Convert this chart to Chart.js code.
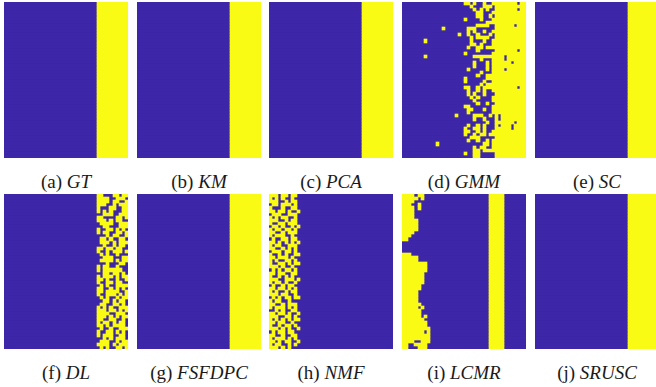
<!DOCTYPE html>
<html>
<head>
<meta charset="utf-8">
<script src="https://cdn.jsdelivr.net/npm/chart.js@4.4.1/dist/chart.umd.min.js"></script>
<style>
  html, body { margin: 0; padding: 0; background: #fff; overflow: hidden; }
  body { width: 656px; height: 387px; position: relative; }
  canvas.panel { position: absolute; }
  .caption {
    position: absolute; width: 180px; text-align: center;
    font-family: "Liberation Serif", "Times New Roman", Times, "DejaVu Serif", serif;
    font-size: 19px; line-height: 22px; color: #1a1a1a; white-space: nowrap;
  }
</style>
</head>
<body>
<script>
// Grid size of every cluster map (columns x rows)
const COLS = 40;
const ROWS = 50;

const panelLetters = ['a', 'b', 'c', 'd', 'e', 'f', 'g', 'h', 'i', 'j'];
const panelNames = ['GT', 'KM', 'PCA', 'GMM', 'SC', 'DL', 'FSFDPC', 'NMF', 'LCMR', 'SRUSC'];
const clusterColors = ['#3E26A8', '#F9FB15']; // class 1 (blue), class 2 (yellow)

// '.' = blue cell, '#' = yellow cell, spaces only group columns by ten
const stripeRow = '.......... .......... .......... ##########';

const gmmRows = [
    '.......... .......... ##.#..#..# #######.##',
    '.......... .......... ..#...###. ##########',
    '.......... .......... ...#.#.#.. #######.##',
    '.......... .......... ....##...# ##########',
    '.......... .......... ....##..#. ##########',
    '.......... .......... #....#...# ##########',
    '.......... .......... .......### ##########',
    '.......... .......... ....####.. ######.###',
    '.......... ...#...... .###...... ##########',
    '.......... .......... .#.#..#..# ##########',
    '.......... ........#. .#..#...#. ##########',
    '.......... .......... ..#.####.. ##########',
    '.......#.. .......... ..#...#..# ##########',
    '.......... .......... ..##.#...# ##########',
    '.......... .......... .#..##.### ##########',
    '.......... .......... ....#..... #######.##',
    '.......... .......... #........# ##########',
    '.......#.. .......... ...####### ###.######',
    '.......... .......... .....#...# ###.######',
    '.......... .......... ...#...#.# #####.####',
    '.......... .......... ...#...#.# ##########',
    '.......... .......... .#.....#.# ###.######',
    '.......... .......... .....#...# ##########',
    '.......... .......... ....#..### ##########',
    '.......... .......... #......### ##########',
    '.......... .......... #.....#..# ##########',
    '.......... .......... .....#.### ##########',
    '.......... .......... ##..#.#### #######.##',
    '.......... .......... .#..#.#..# ##########',
    '.......... .......... .#.#..#... ##########',
    '.......... .......... ..#.#....# ##########',
    '.......... .......... ...#.....# ##########',
    '.......... .......... ....#..#.. ##########',
    '.......... .......... ##.......# ##########',
    '.......... .......... .##...#..# ##########',
    '.......... .......... .#.......# ##########',
    '.......... .......#.. ...###..#. #.########',
    '.......... .......... ...#..#... #.########',
    '.......... .......... .......#.. ######.###',
    '.......... .......... .#..#.#... #.###.####',
    '.......... .......... #..##.#... #####.####',
    '.......... .......... ##..#.#..# ##########',
    '.......... .......... #..#.##.## ##########',
    '.......... .......... ..###..... ##########',
    '.......... .......... .#..#..#.# ##########',
    '.......... .#........ ......##.# ##########',
    '.......... .......... ...#.##..# ##########',
    '.......... .......... ...##.#### ##########',
    '.......... .......... #..##..... ##########',
    '.......... .......... ...##..... ##########'
];

// DL: columns 30-39 only, the rest is blue
const dlStripe = [
    '##...##.##', '####..###.', '####.##..#', '###..#.###', '#...##..##',
    '#.#.#...##', '..###..###', '##....##.#', '###.#.##..', '.####..###',
    '..##...###', '#..##.#.#.', '#.##..##.#', '...#.##..#', '.##.#..##.',
    '.###.#.###', '..#..#.##.', '##.##.##..', '#..#.###.#', '.#.#..#...',
    '..###...##', '.####.#.##', '...#...##.', '#.##..#...', '#.######..',
    '..##.##.#.', '#.###.#.##', '##.#..#..#', '#..##.##..', '.#.#..####',
    '##..#.#.#.', '##.####..#', '#..###.#.#', '.#.#..#.##', '..##.#.##.',
    '.##..##.#.', '#.#.#..###', '###.##.#.#', '####..###.', '###.#.#.##',
    '##..##..#.', '#.##.#.##.', '##.#.####.', '.#..#..###', '#..##.#.#.',
    '#.###..##.', '..#.#.###.', '.###..#.##', '####.#.###', '.#.#..##.#'
];

// NMF: columns 0-9 only, the rest is blue
const nmfStripe = [
    '###.##.##.', '#.#.#..#..', '###..#.##.', '.##.###.#.', '#...#..##.',
    '##.##.#..#', '.###..###.', '#.#.##..#.', '###..#.##.', '#..##.###.',
    '.##.#..#.#', '#.##.##.#.', '##..#.###.', '#.###..#..', '.#..##.##.',
    '##.#.#.#.#', '#.##..###.', '##..#.#.#.', '.###.##.#.', '#..#.#..##',
    '##.###.#..', '#.#..##.#.', '#..##.#.##', '###.#..#..', '.#.#.##.#.',
    '##.##..##.', '#..#.#.#..', '###..###.#', '#.##.#..#.', '.#..#.##..',
    '##.##.#.#.', '#.#..#.##.', '###.##..#.', '.#.#.##.##', '#.##..#...',
    '##..#.###.', '#.###.#.#.', '..#.#..##.', '##.##.#..#', '###..##.#.',
    '#.#.#.#.##', '##.##..#..', '#..#.##.#.', '###.#.#..#', '.#.##.##..',
    '##..#..##.', '#.###.#.#.', '##.#.##..#', '#.##..#.#.', '###.#.#...'
];

// LCMR: columns 0-9 (blob on the left), columns 10-39 are the same in every row
const lcmrLeft = [
    '####.##...', '#####.#...', '####......', '###..#....', '####.#....',
    '####......', '####......', '####......', '#####.....', '#####.....',
    '#####.....', '#####.....', '####......', '###.......', '##........',
    '..........', '..........', '..........', '..........', '###.......',
    '#####.....', '#####.....', '########..', '########..', '########..',
    '#######...', '#######...', '#######...', '#######...', '######....',
    '######....', '#####.....', '#####.....', '#####.....', '#####.....',
    '######....', '#####.#...', '######....', '######....', '######.#..',
    '#######...', '########..', '########..', '#########.', '#######.#.',
    '#########.', '#########.', '####..###.', '##..####..', '##...###..'
];
const lcmrRest = '.......... ........## ###.......';

function gridFor(name) {
    if (name === 'GMM') return gmmRows;
    if (name === 'DL') return dlStripe.map(s => '.......... .......... .......... ' + s);
    if (name === 'NMF') return nmfStripe.map(s => s + ' .......... .......... ..........');
    if (name === 'LCMR') return lcmrLeft.map(s => s + ' ' + lcmrRest);
    return Array(ROWS).fill(stripeRow);
}

// Turn one row string into [start, end] runs of yellow cells
function rowRuns(row) {
    const cells = row.replace(/ /g, '');
    const runs = [];
    let start = -1;
    for (let c = 0; c <= COLS; c++) {
        const yellow = c < COLS && cells[c] === '#';
        if (yellow && start < 0) start = c;
        if (!yellow && start >= 0) {
            runs.push([start, c]);
            start = -1;
        }
    }
    return runs;
}

// Snap bar edges to whole pixels so neighbouring cells leave no seams
const snapEdge = v => Math.round(v + 1e-4);
const snapBars = {
    id: 'snapBars',
    beforeDatasetsDraw(chart) {
        chart.getSortedVisibleDatasetMetas().forEach(meta => {
            meta.data.forEach(el => {
                if (!isFinite(el.x) || !isFinite(el.y) || !isFinite(el.base)) return;
                const top = snapEdge(el.y - el.height / 2);
                const bottom = snapEdge(el.y + el.height / 2);
                el.y = (top + bottom) / 2;
                el.height = bottom - top;
                el.x = snapEdge(el.x);
                el.base = snapEdge(el.base);
            });
        });
    }
};

// Panel placement on the page
const panelLefts = [4, 137, 269, 402, 535];
const panelTops = [2, 194];
const panelHeights = [156, 155];
const panelWidth = 124;
const captionTops = [171, 362];

function renderPanel(index) {
    const col = index % 5;
    const line = Math.floor(index / 5);
    const name = panelNames[index];

    const canvas = document.createElement('canvas');
    canvas.className = 'panel';
    canvas.width = panelWidth;
    canvas.height = panelHeights[line];
    canvas.style.left = panelLefts[col] + 'px';
    canvas.style.top = panelTops[line] + 'px';
    canvas.style.width = panelWidth + 'px';
    canvas.style.height = panelHeights[line] + 'px';
    document.body.appendChild(canvas);

    const rows = gridFor(name);
    const runs = rows.map(rowRuns);
    const maxRuns = Math.max(...runs.map(r => r.length));
    const labels = rows.map((_, i) => i + 1);

    // blue background for every row, yellow runs drawn over it
    const datasets = [{
        data: rows.map(() => [0, COLS]),
        backgroundColor: clusterColors[0],
        barPercentage: 1,
        categoryPercentage: 1,
        grouped: false,
        order: 1
    }];
    for (let k = 0; k < maxRuns; k++) {
        datasets.push({
            data: runs.map(r => r[k] || null),
            backgroundColor: clusterColors[1],
            barPercentage: 1,
            categoryPercentage: 1,
            grouped: false,
            order: 0
        });
    }

    new Chart(canvas, {
        type: 'bar',
        data: { labels, datasets },
        options: {
            indexAxis: 'y',
            responsive: false,
            animation: false,
            events: [],
            layout: { padding: 0 },
            elements: { bar: { borderWidth: 0 } },
            plugins: { legend: { display: false }, tooltip: { enabled: false } },
            scales: {
                x: { type: 'linear', min: 0, max: COLS, display: false },
                y: { display: false }
            }
        },
        plugins: [snapBars]
    });

    const caption = document.createElement('div');
    caption.className = 'caption';
    caption.style.left = (panelLefts[col] + panelWidth / 2 - 90) + 'px';
    caption.style.top = captionTops[line] + 'px';
    caption.innerHTML = '(' + panelLetters[index] + ') <i>' + name + '</i>';
    document.body.appendChild(caption);
}

for (let i = 0; i < panelNames.length; i++) {
    renderPanel(i);
}
</script>
</body>
</html>
